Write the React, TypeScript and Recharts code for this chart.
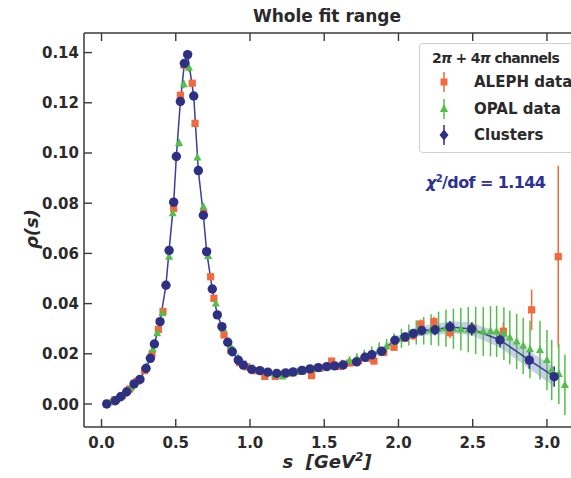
import React from "react";
import { Area, ComposedChart, ErrorBar, Line, Scatter, XAxis, YAxis } from "recharts";

// tick values
const xTicks = [0, 0.5, 1, 1.5, 2, 2.5, 3];
const yTicks = [0, 0.02, 0.04, 0.06, 0.08, 0.1, 0.12, 0.14];

// ALEPH data (s, rho, error)
const alephS = [0.035, 0.09, 0.14, 0.19, 0.24, 0.29, 0.34, 0.383, 0.414, 0.486, 0.531, 0.555, 0.611, 0.63, 0.688, 0.735, 0.757, 0.825, 0.87, 0.93, 0.98, 1.03, 1.1, 1.17, 1.23, 1.29, 1.35, 1.415, 1.47, 1.55, 1.61, 1.67, 1.73, 1.79, 1.835, 1.9, 1.97, 2.04, 2.1, 2.15, 2.239, 2.347, 2.5, 2.706, 2.897, 3.076];
const alephRho = [0.0002, 0.0017, 0.0034, 0.006, 0.0091, 0.0133, 0.02, 0.0297, 0.0369, 0.0779, 0.123, 0.135, 0.1278, 0.1118, 0.0762, 0.0507, 0.0421, 0.0275, 0.0215, 0.0165, 0.0148, 0.0133, 0.011, 0.011, 0.0118, 0.0124, 0.013, 0.0113, 0.0142, 0.0171, 0.015, 0.0163, 0.0172, 0.0182, 0.0171, 0.0205, 0.0226, 0.0262, 0.0272, 0.0319, 0.0328, 0.0284, 0.03, 0.029, 0.0375, 0.0587];
const alephErr = [0.0002, 0.0002, 0.0003, 0.0003, 0.0004, 0.0004, 0.0005, 0.0006, 0.0007, 0.001, 0.0012, 0.0013, 0.0013, 0.0012, 0.001, 0.0008, 0.0007, 0.0006, 0.0005, 0.0005, 0.0005, 0.0005, 0.0005, 0.0005, 0.0005, 0.0005, 0.0006, 0.0006, 0.0006, 0.0007, 0.0007, 0.0008, 0.0009, 0.001, 0.001, 0.0012, 0.0013, 0.0015, 0.0016, 0.0018, 0.002, 0.0022, 0.0025, 0.0035, 0.0081, 0.0362];

// OPAL data
const opalS = [0.06, 0.1, 0.15, 0.2, 0.25, 0.3, 0.345, 0.375, 0.41, 0.455, 0.48, 0.522, 0.554, 0.589, 0.646, 0.686, 0.718, 0.77, 0.82, 0.87, 0.92, 0.97, 1.02, 1.07, 1.12, 1.17, 1.22, 1.27, 1.32, 1.37, 1.42, 1.47, 1.52, 1.57, 1.62, 1.67, 1.72, 1.77, 1.82, 1.87, 1.92, 1.97, 2.02, 2.07, 2.12, 2.17, 2.22, 2.27, 2.32, 2.37, 2.42, 2.47, 2.52, 2.571, 2.62, 2.661, 2.71, 2.75, 2.796, 2.84, 2.886, 2.953, 3.0, 3.032, 3.08, 3.121];
const opalRho = [0.0007, 0.0019, 0.004, 0.0067, 0.01, 0.015, 0.0218, 0.0282, 0.0362, 0.0587, 0.076, 0.104, 0.1274, 0.134, 0.0982, 0.0786, 0.059, 0.04, 0.03, 0.023, 0.0185, 0.0158, 0.0142, 0.0132, 0.0125, 0.0118, 0.011, 0.0122, 0.0128, 0.0133, 0.0138, 0.0143, 0.0148, 0.0153, 0.016, 0.0172, 0.0182, 0.0195, 0.0205, 0.0218, 0.023, 0.0248, 0.0262, 0.0275, 0.0285, 0.0292, 0.0296, 0.03, 0.0302, 0.03, 0.0298, 0.0296, 0.0293, 0.0289, 0.029, 0.0289, 0.028, 0.0265, 0.0249, 0.0232, 0.0218, 0.0215, 0.0175, 0.0135, 0.012, 0.0076];
const opalErr = [0.0003, 0.0003, 0.0003, 0.0004, 0.0004, 0.0005, 0.0006, 0.0007, 0.0008, 0.001, 0.0012, 0.0015, 0.0016, 0.0016, 0.0014, 0.0012, 0.0011, 0.001, 0.0009, 0.0008, 0.0008, 0.0008, 0.0008, 0.0008, 0.0008, 0.0008, 0.0009, 0.001, 0.001, 0.001, 0.0011, 0.0012, 0.0013, 0.0014, 0.0016, 0.0018, 0.002, 0.0022, 0.0025, 0.0028, 0.003, 0.0034, 0.0038, 0.0042, 0.0048, 0.0055, 0.0062, 0.0068, 0.0074, 0.008, 0.0085, 0.009, 0.0094, 0.0097, 0.01, 0.0102, 0.0105, 0.0107, 0.011, 0.0112, 0.0115, 0.0117, 0.012, 0.012, 0.012, 0.012];

// Clusters
const clusterS = [0.035, 0.093, 0.129, 0.17, 0.219, 0.259, 0.3, 0.329, 0.356, 0.394, 0.434, 0.455, 0.486, 0.504, 0.531, 0.558, 0.58, 0.621, 0.652, 0.686, 0.708, 0.746, 0.78, 0.811, 0.85, 0.881, 0.921, 0.955, 1.011, 1.067, 1.12, 1.18, 1.24, 1.29, 1.35, 1.404, 1.46, 1.517, 1.57, 1.628, 1.718, 1.774, 1.82, 1.887, 1.976, 2.044, 2.1, 2.156, 2.246, 2.347, 2.493, 2.684, 2.881, 3.049];
const clusterRho = [0.0, 0.0013, 0.0029, 0.0049, 0.008, 0.0098, 0.0142, 0.0182, 0.0239, 0.0328, 0.0473, 0.0612, 0.0804, 0.0986, 0.1205, 0.1357, 0.1392, 0.1227, 0.093, 0.0752, 0.0607, 0.0458, 0.0355, 0.0308, 0.0246, 0.0208, 0.0175, 0.0155, 0.0138, 0.0133, 0.0127, 0.0122, 0.0124, 0.0128, 0.0134, 0.014, 0.0145, 0.0149, 0.0152, 0.0156, 0.0168, 0.0186, 0.0196, 0.021, 0.0254, 0.0267, 0.0281, 0.0293, 0.0296, 0.0307, 0.0299, 0.0255, 0.0175, 0.0109];
const clusterErr = [0.0003, 0.0003, 0.0003, 0.0003, 0.0004, 0.0004, 0.0005, 0.0005, 0.0006, 0.0007, 0.0008, 0.0009, 0.001, 0.001, 0.0012, 0.0012, 0.0012, 0.0012, 0.001, 0.001, 0.0009, 0.0008, 0.0007, 0.0006, 0.0006, 0.0005, 0.0005, 0.0005, 0.0005, 0.0005, 0.0005, 0.0005, 0.0005, 0.0005, 0.0005, 0.0005, 0.0006, 0.0006, 0.0006, 0.0007, 0.0008, 0.0009, 0.001, 0.0012, 0.0015, 0.0016, 0.0018, 0.002, 0.0022, 0.0024, 0.0026, 0.003, 0.0035, 0.004];

const rows = (s: number[], rho: number[], err: number[]) =>
  s.map((v, i) => ({ s: v, rho: rho[i], err: err[i], band: [rho[i] - err[i], rho[i] + err[i]] }));

const aleph = rows(alephS, alephRho, alephErr);
const opal = rows(opalS, opalRho, opalErr);
const clusters = rows(clusterS, clusterRho, clusterErr);

const ORANGE = "#f3693b";
const GREEN = "#53bf4b";
const NAVY = "#2e3183";
const AXIS = "#3a3a3a";
const FONT = "'DejaVu Sans', sans-serif";

const BottomTick = ({ x, y, payload }: any) => (
  <g>
    <line x1={x} y1={y} x2={x} y2={y - 8} stroke={AXIS} strokeWidth={1.4} />
    <text x={x} y={y + 21} textAnchor="middle" fontFamily={FONT} fontWeight="bold" fontSize={15} fill="#2a2a2a">
      {payload.value.toFixed(1)}
    </text>
  </g>
);

const TopTick = ({ x, y }: any) => (
  <line x1={x} y1={y} x2={x} y2={y + 8} stroke={AXIS} strokeWidth={1.4} />
);

const LeftTick = ({ x, y, payload }: any) => (
  <g>
    <line x1={x} y1={y} x2={x + 8} y2={y} stroke={AXIS} strokeWidth={1.4} />
    <text x={x - 5} y={y + 5.5} textAnchor="end" fontFamily={FONT} fontWeight="bold" fontSize={15} fill="#2a2a2a">
      {payload.value.toFixed(2)}
    </text>
  </g>
);

const square = (p: any) => <rect x={p.cx - 3.6} y={p.cy - 3.6} width={7.2} height={7.2} fill={ORANGE} />;
const triangle = (p: any) => (
  <polygon points={`${p.cx},${p.cy - 4.6} ${p.cx - 4},${p.cy + 3} ${p.cx + 4},${p.cy + 3}`} fill={GREEN} />
);
const dot = (p: any) => <circle cx={p.cx} cy={p.cy} r={4.7} fill={NAVY} />;

const xDomain = [-0.118, 3.162];
const yDomain = [-0.00916, 0.1478];

export default function App() {
  return (
    <div style={{ position: "relative", width: 571, height: 478, overflow: "hidden", background: "#fff", fontFamily: FONT }}>
      <style>{"body{margin:0}"}</style>
      <ComposedChart width={571} height={478} data={clusters} margin={{ top: 0, right: 0, bottom: 0, left: 0 }}>
        <XAxis
          dataKey="s"
          type="number"
          domain={xDomain}
          ticks={xTicks}
          allowDataOverflow
          height={51}
          tickSize={0}
          tickMargin={0}
          tickLine={false}
          tick={<BottomTick />}
          axisLine={{ stroke: AXIS, strokeWidth: 1.5 }}
        />
        <XAxis
          xAxisId="top"
          orientation="top"
          dataKey="s"
          type="number"
          domain={xDomain}
          ticks={xTicks}
          allowDataOverflow
          height={33}
          tickSize={0}
          tickMargin={0}
          tickLine={false}
          tick={<TopTick />}
          axisLine={{ stroke: AXIS, strokeWidth: 1.5 }}
        />
        <YAxis
          type="number"
          domain={yDomain}
          ticks={yTicks}
          allowDataOverflow
          width={84}
          tickSize={0}
          tickMargin={0}
          tickLine={false}
          tick={<LeftTick />}
          axisLine={{ stroke: AXIS, strokeWidth: 1.5 }}
        />
        <Area dataKey="band" type="linear" stroke="none" fill="#a9abe0" fillOpacity={0.6} isAnimationActive={false} />
        <Scatter data={aleph} dataKey="rho" shape={square} isAnimationActive={false}>
          <ErrorBar dataKey="err" direction="y" width={0} stroke={ORANGE} strokeWidth={1.5} />
        </Scatter>
        <Scatter data={opal} dataKey="rho" shape={triangle} isAnimationActive={false}>
          <ErrorBar dataKey="err" direction="y" width={0} stroke={GREEN} strokeWidth={1.5} />
        </Scatter>
        <Line dataKey="rho" type="linear" stroke="#3b3f95" strokeWidth={1.5} dot={false} isAnimationActive={false} />
        <Scatter data={clusters} dataKey="rho" shape={dot} isAnimationActive={false}>
          <ErrorBar dataKey="err" direction="y" width={0} stroke={NAVY} strokeWidth={1.5} />
        </Scatter>
      </ComposedChart>

      <div style={{ position: "absolute", left: 0, width: 654, top: 6, textAlign: "center", fontSize: 17, fontWeight: "bold", color: "#2a2a2a" }}>
        Whole fit range
      </div>
      <div
        style={{
          position: "absolute", left: 31, top: 229, transform: "translate(-50%, -50%) rotate(-90deg)",
          fontSize: 18, fontStyle: "italic", fontWeight: "bold", color: "#2a2a2a", whiteSpace: "nowrap",
        }}
      >
        ρ(s)
      </div>
      <div style={{ position: "absolute", left: 0, width: 654, top: 450, textAlign: "center", fontSize: 18, fontStyle: "italic", fontWeight: "bold", color: "#2a2a2a", whiteSpace: "pre" }}>
        {"s  [GeV"}<sup style={{ fontSize: 12 }}>2</sup>{"]"}
      </div>

      <div
        style={{
          position: "absolute", left: 419, top: 43, width: 170, height: 110, border: "1px solid #cfcfcf",
          borderRadius: 4, background: "rgba(255,255,255,0.85)", boxSizing: "border-box", color: "#2a2a2a",
          fontSize: 15, fontWeight: "bold",
        }}
      >
        <div style={{ position: "absolute", left: 12, top: 6, whiteSpace: "nowrap", fontSize: 14, letterSpacing: -0.7 }}>
          2<i>π</i> + 4<i>π</i> channels
        </div>
        {[
          { label: "ALEPH data", color: ORANGE, shape: "sq", top: 29 },
          { label: "OPAL data", color: GREEN, shape: "tri", top: 56 },
          { label: "Clusters", color: NAVY, shape: "dot", top: 82 },
        ].map((e) => (
          <div key={e.label} style={{ position: "absolute", left: 0, top: e.top, height: 20, width: 170 }}>
            <svg width={20} height={22} style={{ position: "absolute", left: 14, top: -2 }}>
              <line x1={10} y1={1} x2={10} y2={21} stroke={e.color} strokeWidth={1.5} />
              {e.shape === "sq" && <rect x={6.5} y={7.5} width={7} height={7} fill={e.color} />}
              {e.shape === "tri" && <polygon points="10,6 6,14 14,14" fill={e.color} />}
              {e.shape === "dot" && <polygon points="10,5.5 14.5,11 10,16.5 5.5,11" fill={e.color} />}
            </svg>
            <span style={{ position: "absolute", left: 54, top: 0, whiteSpace: "nowrap" }}>{e.label}</span>
          </div>
        ))}
      </div>

      <div style={{ position: "absolute", left: 426, top: 173, fontSize: 16, fontWeight: "bold", color: "#2e3192", whiteSpace: "nowrap", letterSpacing: -0.6 }}>
        <i>χ</i>
        <sup style={{ fontSize: 10 }}>2</sup>/dof = 1.144
      </div>
    </div>
  );
}
